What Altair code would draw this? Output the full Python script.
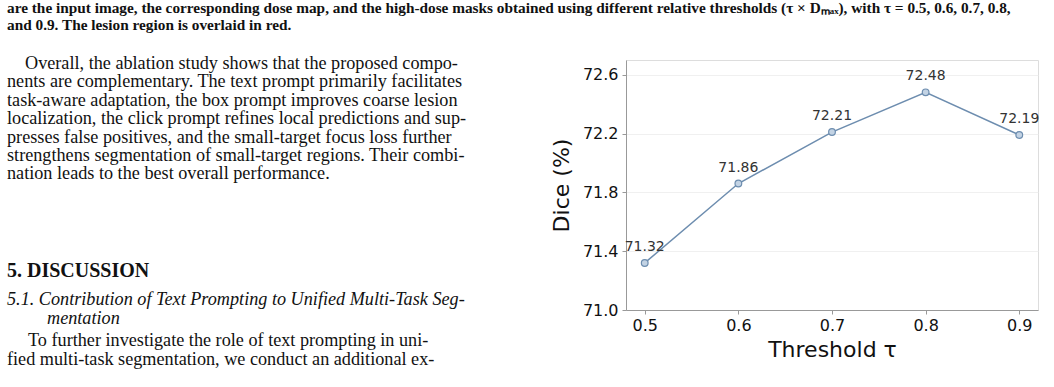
import altair as alt
import pandas as pd

# ---- chart data ----
thresholds = [0.5, 0.6, 0.7, 0.8, 0.9]
dice = [71.32, 71.86, 72.21, 72.48, 72.19]
dice_labels = ["71.32", "71.86", "72.21", "72.48", "72.19"]
y_tick_values = [71.0, 71.4, 71.8, 72.2, 72.6]

# ---- surrounding page text ----
caption_lines = [
    "are the input image, the corresponding dose map, and the high-dose masks obtained using different relative thresholds (\u03c4 \u00d7 D\u2098\u2090\u2093), with \u03c4 = 0.5, 0.6, 0.7, 0.8,",
    "and 0.9. The lesion region is overlaid in red.",
]
para_lines = [
    "Overall, the ablation study shows that the proposed compo-",
    "nents are complementary. The text prompt primarily facilitates",
    "task-aware adaptation, the box prompt improves coarse lesion",
    "localization, the click prompt refines local predictions and sup-",
    "presses false positives, and the small-target focus loss further",
    "strengthens segmentation of small-target regions. Their combi-",
    "nation leads to the best overall performance.",
]
section_title = "5.  DISCUSSION"
subsection_lines = [
    "5.1.  Contribution of Text Prompting to Unified Multi-Task Seg-",
    "mentation",
]
para2_lines = [
    "To further investigate the role of text prompting in uni-",
    "fied multi-task segmentation, we conduct an additional ex-",
]

df = pd.DataFrame({"tau": thresholds, "dice": dice, "label": dice_labels})

LINE = "#6d8daf"
FILL = "#c3d3e4"
AX = "DejaVu Sans"
SERIF = "Liberation Serif"

base = alt.Chart(df)

x_enc = alt.X(
    "tau:Q",
    scale=alt.Scale(domain=[0.48, 0.92], nice=False, zero=False),
    axis=alt.Axis(
        values=thresholds, format=".1f", title="Threshold \u03c4", grid=False,
        labelFont=AX, labelFontSize=16, labelColor="#111", labelPadding=3,
        tickSize=4, tickColor="#999", domainColor="#999",
        titleFont=AX, titleFontSize=22, titleFontWeight="normal", titleColor="#111",
        titlePadding=6,
    ),
)
y_enc = alt.Y(
    "dice:Q",
    scale=alt.Scale(domain=[71.0, 72.7], nice=False, zero=False),
    axis=alt.Axis(
        values=y_tick_values, format=".1f", title="Dice (%)", grid=True,
        gridColor="#ececec", gridWidth=0.8,
        labelFont=AX, labelFontSize=16, labelColor="#111", labelPadding=4,
        tickSize=4, tickColor="#999", domainColor="#999",
        titleFont=AX, titleFontSize=22, titleFontWeight="normal", titleColor="#111",
        titlePadding=9,
    ),
)

line = base.mark_line(color=LINE, strokeWidth=1.5).encode(x=x_enc, y=y_enc)
pts = base.mark_point(
    shape="circle", filled=True, fill=FILL, stroke=LINE, strokeWidth=1.2, opacity=1, size=45
).encode(x="tau:Q", y="dice:Q")
labels = base.mark_text(
    font=AX, fontSize=14, color="#333", dy=-12, baseline="alphabetic", align="center"
).encode(x="tau:Q", y="dice:Q", text="label:N")


def text_block(lines, x, y, size, weight="normal", style="normal", lh=18.4):
    return alt.Chart(alt.Data(values=[{"t": "\n".join(lines)}])).mark_text(
        font=SERIF, fontSize=size, fontWeight=weight, fontStyle=style,
        align="left", baseline="alphabetic", lineBreak="\n", lineHeight=lh,
        color="#111",
    ).encode(x=alt.value(x), y=alt.value(y), text="t:N")


OX, OY = 626, 60  # plot origin in page pixels
P = 18.2

page = [
    text_block(caption_lines, 7 - OX, 13 - OY, 15.3, weight="bold", lh=17),
    text_block(para_lines[:1], 25 - OX, 69 - OY, P),
    text_block(para_lines[1:], 7 - OX, 87.4 - OY, P),
    text_block([section_title], 7 - OX, 277 - OY, 20, weight="bold"),
    text_block(subsection_lines[:1], 7 - OX, 305 - OY, P, style="italic"),
    text_block(subsection_lines[1:], 47 - OX, 324 - OY, P, style="italic"),
    text_block(para2_lines[:1], 28 - OX, 346 - OY, P),
    text_block(para2_lines[1:], 7 - OX, 365 - OY, P),
]

chart = alt.layer(line, pts, labels, *page).properties(
    width=412, height=250,
    autosize=alt.AutoSizeParams(type="none"),
    padding={"left": OX, "top": OY, "right": 1054 - OX - 412, "bottom": 387 - OY - 250},
).configure_view(stroke=None).configure(background="white")

chart.save("out.html", embed_options={"renderer": "svg", "actions": False})
